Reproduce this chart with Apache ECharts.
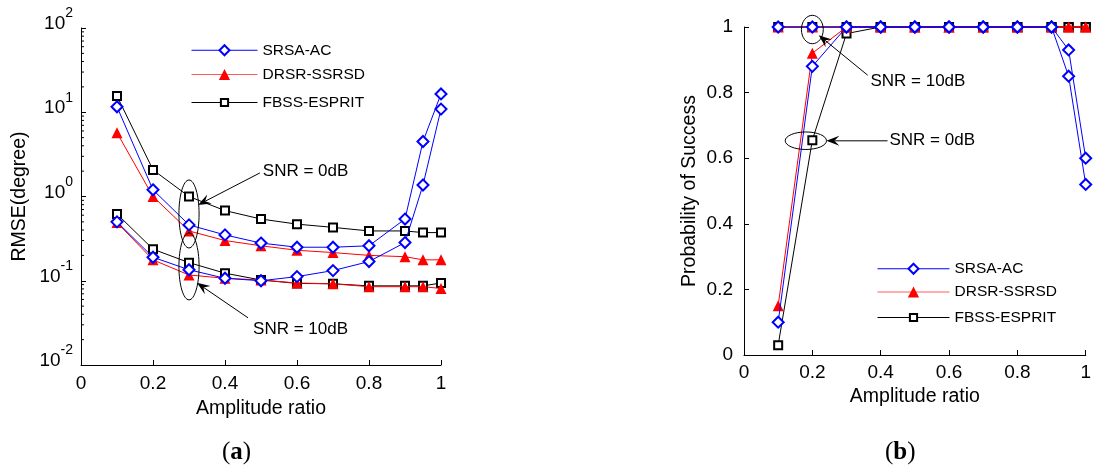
<!DOCTYPE html>
<html><head><meta charset="utf-8">
<script src="https://cdn.jsdelivr.net/npm/echarts@6/dist/echarts.min.js"></script>
<style>html,body{margin:0;padding:0;background:#fff}#c{width:1094px;height:470px}</style>
</head><body><div id="c"></div>
<script>
// ---------- data ----------
const xVals = [0.1, 0.2, 0.3, 0.4, 0.5, 0.6, 0.7, 0.8, 0.9, 0.95, 1.0];
const methods = ['SRSA-AC', 'DRSR-SSRSD', 'FBSS-ESPRIT'];
const xTickVals = [0, 0.2, 0.4, 0.6, 0.8, 1];
const logTickVals = [0.01, 0.1, 1, 10, 100];
const minorLogTicks = [0.02,0.03,0.04,0.05,0.06,0.07,0.08,0.09,0.2,0.3,0.4,0.5,0.6,0.7,0.8,0.9,2,3,4,5,6,7,8,9,20,30,40,50,60,70,80,90];

// (a) RMSE (degree), SNR = 0dB
const rmseSRSA0  = [11.6, 1.2, 0.46, 0.35, 0.28, 0.25, 0.25, 0.26, 0.54, 4.5, 16.5];
const rmseDRSR0  = [5.7, 1.0, 0.39, 0.30, 0.26, 0.23, 0.216, 0.20, 0.193, 0.177, 0.177];
const rmseFBSS0  = [15.6, 2.07, 1.0, 0.68, 0.54, 0.47, 0.43, 0.39, 0.39, 0.373, 0.373];
// (a) RMSE (degree), SNR = 10dB
const rmseSRSA10 = [0.50, 0.19, 0.135, 0.107, 0.10, 0.112, 0.132, 0.169, 0.284, 1.37, 10.9];
const rmseDRSR10 = [0.49, 0.177, 0.117, 0.107, 0.102, 0.094, 0.092, 0.085, 0.085, 0.085, 0.081];
const rmseFBSS10 = [0.62, 0.237, 0.164, 0.123, 0.102, 0.093, 0.092, 0.087, 0.087, 0.087, 0.094];

// (b) Probability of success, SNR = 0dB
const psSRSA0  = [0.10, 0.88, 1, 1, 1, 1, 1, 1, 1, 0.85, 0.52];
const psDRSR0  = [0.15, 0.92, 1, 1, 1, 1, 1, 1, 1, 1, 1];
const psFBSS0  = [0.03, 0.655, 0.98, 1, 1, 1, 1, 1, 1, 1, 1];
// (b) Probability of success, SNR = 10dB
const psSRSA10 = [1, 1, 1, 1, 1, 1, 1, 1, 1, 0.93, 0.60];
const psDRSR10 = [1, 1, 1, 1, 1, 1, 1, 1, 1, 1, 1];
const psFBSS10 = [1, 1, 1, 1, 1, 1, 1, 1, 1, 1, 1];

// ---------- annotations (data coordinates) ----------
const annLeft = [
  {kind: 'ellipse', x: 0.3, yTop: 1.57, yBot: 0.245, rx: 0.028},
  {kind: 'ellipse', x: 0.3, yTop: 0.37, yBot: 0.0593, rx: 0.028},
  {kind: 'arrow', x0: 0.497, y0: 1.905, x1: 0.325, y1: 0.794},
  {kind: 'arrow', x0: 0.464, y0: 0.0363, x1: 0.322, y1: 0.0944},
  {kind: 'text', x: 0.505, y: 2.01, text: 'SNR = 0dB'},
  {kind: 'text', x: 0.478, y: 0.0262, text: 'SNR = 10dB'}
];
const annRight = [
  {kind: 'ellipse', x: 0.2, yTop: 1.0356, yBot: 0.949, rx: 0.032},
  {kind: 'ellipse', x: 0.181, yTop: 0.680, yBot: 0.6266, rx: 0.0604},
  {kind: 'arrow', x0: 0.362, y0: 0.853, x1: 0.2186, y1: 0.975},
  {kind: 'arrow', x0: 0.42, y0: 0.653, x1: 0.241, y1: 0.653},
  {kind: 'text', x: 0.370, y: 0.835, text: 'SNR = 10dB'},
  {kind: 'text', x: 0.4257, y: 0.655, text: 'SNR = 0dB'}
];

// ---------- styles ----------
const FONT = '"Liberation Sans", Arial, sans-serif';
const sty = {
  'SRSA-AC':     {symbol: 'emptyDiamond', symbolSize: 11, color: '#0000ff', legendLine: '#0000ff', z: 4, legendH: 12.5},
  'DRSR-SSRSD':  {symbol: 'triangle', symbolSize: 11, color: '#ff0000', legendLine: '#ff5a5a', z: 3, legendH: 14},
  'FBSS-ESPRIT': {symbol: 'emptyRect', symbolSize: 8, color: '#000000', legendLine: '#000000', z: 2, legendH: 9}
};

function lineSeries(name, vals, idx) {
  const s = sty[name];
  return {
    type: 'line', name: name, xAxisIndex: idx, yAxisIndex: idx,
    data: xVals.map((x, i) => [x, vals[i]]),
    symbol: s.symbol, symbolSize: s.symbolSize, showAllSymbol: true,
    lineStyle: {color: s.color, width: 1},
    itemStyle: {color: s.color, borderWidth: 1},
    z: s.z, animation: false, silent: true, clip: false
  };
}

function annRender(list) {
  return function (params, api) {
    const a = list[params.dataIndex];
    if (a.kind === 'ellipse') {
      const t = api.coord([a.x, a.yTop]), b = api.coord([a.x, a.yBot]);
      const r = api.coord([a.x + a.rx, a.yTop]);
      return {type: 'ellipse', shape: {cx: t[0], cy: (t[1] + b[1]) / 2, rx: r[0] - t[0], ry: (b[1] - t[1]) / 2},
        style: {fill: 'none', stroke: '#000', lineWidth: 1}};
    }
    if (a.kind === 'arrow') {
      const p0 = api.coord([a.x0, a.y0]), p1 = api.coord([a.x1, a.y1]);
      const dx = p1[0] - p0[0], dy = p1[1] - p0[1], L = Math.hypot(dx, dy);
      const ux = dx / L, uy = dy / L, nx = -uy, ny = ux;
      const hl = 13, hw = 5, nb = 8;
      const base = [p1[0] - ux * hl, p1[1] - uy * hl];
      const notch = [p1[0] - ux * nb, p1[1] - uy * nb];
      return {type: 'group', children: [
        {type: 'line', shape: {x1: p0[0], y1: p0[1], x2: notch[0], y2: notch[1]}, style: {stroke: '#000', lineWidth: 1}},
        {type: 'polygon', shape: {points: [p1, [base[0] + nx * hw, base[1] + ny * hw], notch, [base[0] - nx * hw, base[1] - ny * hw]]},
          style: {fill: '#000'}}
      ]};
    }
    const p = api.coord([a.x, a.y]);
    return {type: 'text', x: p[0], y: p[1], style: {text: a.text, font: '17px ' + FONT, fill: '#000', align: 'left', verticalAlign: 'middle'}};
  };
}

function legendsAt(left, rowYs, itemWidth) {
  return methods.map((m, i) => ({
    data: [m], orient: 'vertical', left: left, top: rowYs[i] - sty[m].legendH / 2,
    itemWidth: itemWidth, itemHeight: sty[m].legendH, padding: 0,
    lineStyle: {width: 1, color: sty[m].legendLine},
    textStyle: {fontSize: 15.5, fontFamily: FONT, color: '#000'}, selectedMode: false
  }));
}

const axisCommon = {
  axisLine: {show: true, lineStyle: {color: '#000', width: 1}},
  axisTick: {show: true, inside: true, length: 5, lineStyle: {color: '#000'}},
  splitLine: {show: false},
  axisLabel: {color: '#000', fontSize: 19, fontFamily: FONT},
  nameTextStyle: {color: '#000', fontSize: 19.5, fontFamily: FONT}
};

const xTickFmt = v => (Math.abs(v) < 1e-9 ? '0' : (Math.abs(v - 1) < 1e-9 ? '1' : String(+v.toFixed(1))));

const option = {
  backgroundColor: '#fff',
  animation: false,
  grid: [
    {left: 81, top: 28, width: 360, height: 337},
    {left: 744, top: 27, width: 348, height: 328}
  ],
  legend: legendsAt(191, [48.5, 73.5, 99], 66).concat(legendsAt(877, [267, 291, 314], 72)),
  xAxis: [
    Object.assign({}, axisCommon, {type: 'value', gridIndex: 0, min: 0, max: 1, interval: 0.2,
      name: 'Amplitude ratio', nameLocation: 'middle', nameGap: 34,
      axisLabel: Object.assign({}, axisCommon.axisLabel, {margin: 9, formatter: xTickFmt})}),
    Object.assign({}, axisCommon, {type: 'value', gridIndex: 1, min: 0, max: 1, interval: 0.2,
      name: 'Amplitude ratio', nameLocation: 'middle', nameGap: 32,
      axisLabel: Object.assign({}, axisCommon.axisLabel, {margin: 8, formatter: xTickFmt})})
  ],
  yAxis: [
    Object.assign({}, axisCommon, {type: 'log', logBase: 10, gridIndex: 0, min: 0.01, max: 100,
      name: 'RMSE(degree)', nameLocation: 'middle', nameGap: 51,
      axisLabel: Object.assign({}, axisCommon.axisLabel, {margin: 8, padding: [0, 0, 8, 0],
        formatter: v => '{b|10}{s|' + Math.round(Math.log10(v)) + '}',
        rich: {b: {fontSize: 19, fontFamily: FONT, color: '#000', lineHeight: 19, verticalAlign: 'bottom'},
               s: {fontSize: 14, fontFamily: FONT, color: '#000', lineHeight: 14, verticalAlign: 'bottom', padding: [0, 0, 13, 0]}}})}),
    Object.assign({}, axisCommon, {type: 'value', gridIndex: 1, min: 0, max: 1, interval: 0.2,
      name: 'Probability of Success', nameLocation: 'middle', nameGap: 44,
      axisLabel: Object.assign({}, axisCommon.axisLabel, {margin: 11, formatter: xTickFmt})})
  ],
  series: [
    lineSeries('FBSS-ESPRIT', rmseFBSS0, 0),
    lineSeries('FBSS-ESPRIT', rmseFBSS10, 0),
    lineSeries('DRSR-SSRSD', rmseDRSR0, 0),
    lineSeries('DRSR-SSRSD', rmseDRSR10, 0),
    lineSeries('SRSA-AC', rmseSRSA0, 0),
    lineSeries('SRSA-AC', rmseSRSA10, 0),
    lineSeries('FBSS-ESPRIT', psFBSS0, 1),
    lineSeries('FBSS-ESPRIT', psFBSS10, 1),
    lineSeries('DRSR-SSRSD', psDRSR0, 1),
    lineSeries('DRSR-SSRSD', psDRSR10, 1),
    lineSeries('SRSA-AC', psSRSA0, 1),
    lineSeries('SRSA-AC', psSRSA10, 1),
    {type: 'custom', name: 'minorTicks', xAxisIndex: 0, yAxisIndex: 0, silent: true, clip: false, z: 5,
      data: minorLogTicks.map(v => [0, v]),
      renderItem: function (params, api) {
        const p = api.coord([0, api.value(1)]);
        return {type: 'line', shape: {x1: p[0], y1: p[1], x2: p[0] + 3, y2: p[1]}, style: {stroke: '#000', lineWidth: 1}};
      }},
    {type: 'custom', name: 'annLeft', xAxisIndex: 0, yAxisIndex: 0, silent: true, clip: false, z: 6,
      data: annLeft.map(() => [0.5, 1]), renderItem: annRender(annLeft)},
    {type: 'custom', name: 'annRight', xAxisIndex: 1, yAxisIndex: 1, silent: true, clip: false, z: 6,
      data: annRight.map(() => [0.5, 0.5]), renderItem: annRender(annRight)}
  ],
  graphic: [
    {type: 'text', left: 222, top: 440, style: {text: '({b|a})', font: '25px "Liberation Serif", serif', fill: '#000',
      rich: {b: {fontWeight: 'bold', fontSize: 25, fontFamily: '"Liberation Serif", serif'}}}},
    {type: 'text', left: 885, top: 440, style: {text: '({b|b})', font: '25px "Liberation Serif", serif', fill: '#000',
      rich: {b: {fontWeight: 'bold', fontSize: 25, fontFamily: '"Liberation Serif", serif'}}}}
  ]
};

const chart = echarts.init(document.getElementById('c'), null, {renderer: 'canvas'});
chart.setOption(option);
</script>
</body></html>
